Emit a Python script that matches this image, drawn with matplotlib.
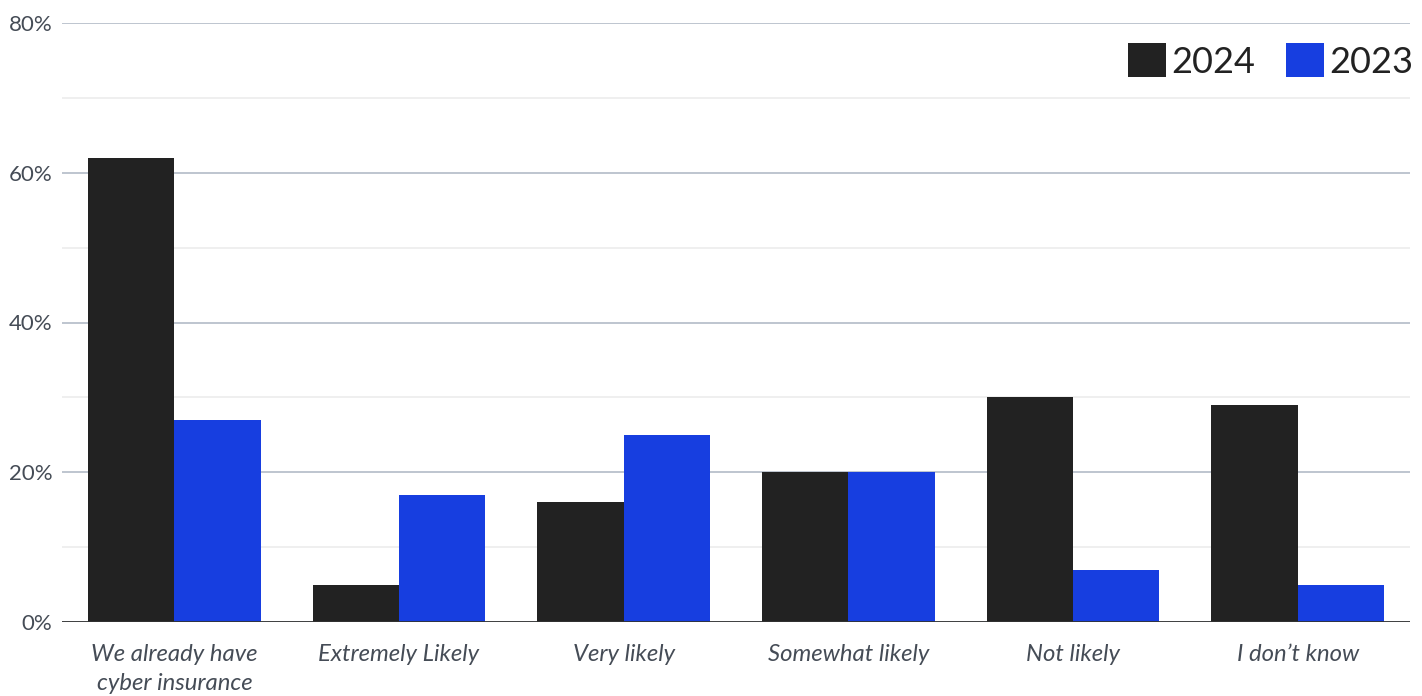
import numpy as np
import matplotlib.pyplot as plt
from matplotlib.ticker import FuncFormatter, MultipleLocator

plt.rcParams['font.family'] = ['Lato', 'DejaVu Sans']

categories = ['We already have\ncyber insurance', 'Extremely Likely', 'Very likely',
              'Somewhat likely', 'Not likely', 'I don\u2019t know']
vals_2024 = [62, 5, 16, 20, 30, 29]
vals_2023 = [27, 17, 25, 20, 7, 5]

black = '#222222'
blue = '#173ee0'
text_col = '#454c56'

fig = plt.figure(figsize=(14.22, 6.96), dpi=100)
ax = fig.add_axes([62/1422, 74/696, (1410-62)/1422, (622-23)/696])

x = np.arange(len(categories))
w = 0.384
ax.bar(x - w/2, vals_2024, w, color=black, label='2024', zorder=3)
ax.bar(x + w/2, vals_2023, w, color=blue, label='2023', zorder=3)

ax.set_xlim(-0.5, len(categories) - 0.5)
ax.set_ylim(0, 80)
ax.yaxis.set_major_locator(MultipleLocator(20))
ax.yaxis.set_minor_locator(MultipleLocator(10))
ax.yaxis.set_major_formatter(FuncFormatter(lambda v, p: f'{v:.0f}%'))
ax.grid(axis='y', which='major', color='#b9c0cc', lw=1.3, zorder=0)
ax.grid(axis='y', which='minor', color='#ececec', lw=1.2, zorder=0)
ax.axhline(0, color='#333333', lw=2, zorder=4)

for s in ax.spines.values():
    s.set_visible(False)
ax.tick_params(axis='y', which='both', length=0, pad=7, labelsize=16, labelcolor=text_col)
ax.tick_params(axis='x', length=0, pad=16)
ax.set_xticks(x)
ax.set_xticklabels(categories, fontsize=17.2, style='italic', color=text_col,
                   linespacing=1.45, va='top')

leg = ax.legend(loc='upper right', bbox_to_anchor=(1.013, 0.99), ncol=2, frameon=False,
                fontsize=26, handlelength=1.05, handleheight=1.05, handletextpad=0.15,
                columnspacing=0.85, borderaxespad=0)
for t in leg.get_texts():
    t.set_color(black)

fig.savefig('out.png', dpi=100)
